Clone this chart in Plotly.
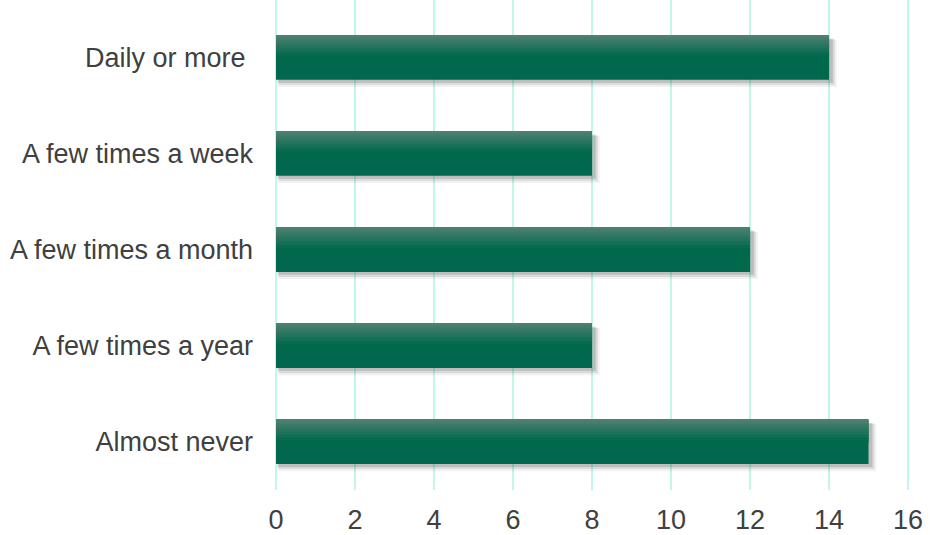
import plotly.graph_objects as go

# Survey: how often respondents do the activity
categories = ["Daily or more\u00a0", "A few times a week", "A few times a month",
              "A few times a year", "Almost never"]
counts = [14, 8, 12, 8, 15]
x_ticks = [0, 2, 4, 6, 8, 10, 12, 14, 16]

BAR_W = 0.46
DARK = (0, 104, 77)
LIGHT = (78, 128, 112)

fig = go.Figure()

# soft drop shadow (layered translucent bars shifted down/right)
for dx, dy, grow, a in [(0.12, 0.06, 0.03, 0.08), (0.09, 0.045, 0.015, 0.12), (0.06, 0.03, 0.0, 0.18)]:
    fig.add_trace(go.Bar(
        y=categories, x=[v + dx for v in counts], base=[dx * 0.6] * len(counts),
        orientation="h", width=BAR_W + grow, offset=-BAR_W / 2 + dy - grow / 2,
        marker=dict(color=f"rgba(60,60,60,{a})", line=dict(width=0)),
        hoverinfo="skip", showlegend=False))

# main bar body
fig.add_trace(go.Bar(
    y=categories, x=counts, orientation="h", width=BAR_W, offset=-BAR_W / 2,
    marker=dict(color="rgb(%d,%d,%d)" % DARK, line=dict(width=0)),
    showlegend=False))

# vertical gradient on the upper part of each bar
n_steps = 14
grad_h = BAR_W * 0.5
step = grad_h / n_steps
for k in range(n_steps):
    t = k / (n_steps - 1)
    c = tuple(round(LIGHT[j] + (DARK[j] - LIGHT[j]) * t) for j in range(3))
    fig.add_trace(go.Bar(
        y=categories, x=counts, orientation="h", width=step + 0.002,
        offset=-BAR_W / 2 + k * step,
        marker=dict(color="rgb(%d,%d,%d)" % c, line=dict(width=0)),
        hoverinfo="skip", showlegend=False))

fig.update_layout(
    width=930, height=535,
    margin=dict(l=276, r=20, t=0, b=42),
    paper_bgcolor="white", plot_bgcolor="white",
    barmode="overlay",
    font=dict(family="Liberation Sans, Arial, sans-serif", size=27, color="#404040"),
    xaxis=dict(range=[0, 16.05], tickvals=x_ticks, showgrid=True,
               gridcolor="#bff8e9", gridwidth=2, zeroline=True,
               zerolinecolor="#bff8e9", zerolinewidth=2,
               showline=False, ticks="", ticklabelstandoff=11),
    yaxis=dict(range=[4.5, -0.6], showgrid=False, zeroline=False,
               showline=False, ticks="", ticklabelstandoff=22),
)

fig.write_html("out.html")
